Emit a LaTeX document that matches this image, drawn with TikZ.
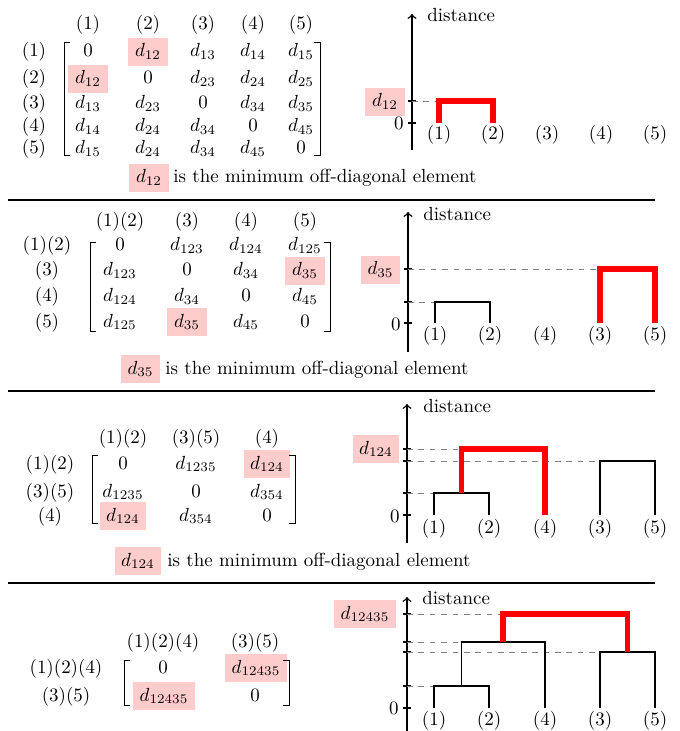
\documentclass[tikz,border=0pt]{standalone}
\begin{document}
\begin{tikzpicture}[x=0.527pt,y=-0.527pt,
  every node/.style={font=\fontsize{10}{12}\selectfont},
  ent/.style={anchor=base, text height=8pt, text depth=3pt, inner xsep=3.5pt, inner ysep=2pt},
  hl/.style={ent, fill=red!20},
  lbl/.style={anchor=base, inner sep=0pt},
  brk/.style={line width=0.5pt},
  sepline/.style={line width=0.8pt},
  axisline/.style={line width=0.8pt, ->},
  tickmark/.style={line width=0.8pt},
  dend/.style={line width=0.9pt},
  merge/.style={red, line width=2.8pt},
  guide/.style={gray, dashed, line width=0.4pt}
]
\useasboundingbox (0,0) rectangle (679,731);

% separators
\coordinate (s1a) at (8,200); \coordinate (s1b) at (655,200);
\coordinate (s2a) at (8,391); \coordinate (s2b) at (655,391);
\coordinate (s3a) at (8,583); \coordinate (s3b) at (655,583);
\draw[sepline] (s1a) -- (s1b);
\draw[sepline] (s2a) -- (s2b);
\draw[sepline] (s3a) -- (s3b);

%================ PANEL 1 =================
\node[lbl] (h11) at (88,30) {(1)};
\node[lbl] (h12) at (148,30) {(2)};
\node[lbl] (h13) at (203,30) {(3)};
\node[lbl] (h14) at (253,30) {(4)};
\node[lbl] (h15) at (301,30) {(5)};
\node[lbl] (r11) at (34,57) {(1)};
\node[lbl] (r12) at (34,84) {(2)};
\node[lbl] (r13) at (34,109) {(3)};
\node[lbl] (r14) at (34,132) {(4)};
\node[lbl] (r15) at (34,154) {(5)};
% row 1
\node[ent] (m1a11) at (88,57) {$0$};
\node[hl]  (m1a12) at (148,57) {$d_{12}$};
\node[ent] (m1a13) at (203,57) {$d_{13}$};
\node[ent] (m1a14) at (253,57) {$d_{14}$};
\node[ent] (m1a15) at (301,57) {$d_{15}$};
% row 2
\node[hl]  (m1a21) at (88,84) {$d_{12}$};
\node[ent] (m1a22) at (148,84) {$0$};
\node[ent] (m1a23) at (203,84) {$d_{23}$};
\node[ent] (m1a24) at (253,84) {$d_{24}$};
\node[ent] (m1a25) at (301,84) {$d_{25}$};
% row 3
\node[ent] (m1a31) at (88,109) {$d_{13}$};
\node[ent] (m1a32) at (148,109) {$d_{23}$};
\node[ent] (m1a33) at (203,109) {$0$};
\node[ent] (m1a34) at (253,109) {$d_{34}$};
\node[ent] (m1a35) at (301,109) {$d_{35}$};
% row 4
\node[ent] (m1a41) at (88,132) {$d_{14}$};
\node[ent] (m1a42) at (148,132) {$d_{24}$};
\node[ent] (m1a43) at (203,132) {$d_{34}$};
\node[ent] (m1a44) at (253,132) {$0$};
\node[ent] (m1a45) at (301,132) {$d_{45}$};
% row 5
\node[ent] (m1a51) at (88,154) {$d_{15}$};
\node[ent] (m1a52) at (148,154) {$d_{24}$};
\node[ent] (m1a53) at (203,154) {$d_{34}$};
\node[ent] (m1a54) at (253,154) {$d_{45}$};
\node[ent] (m1a55) at (301,154) {$0$};
\draw[brk] (70,42) -- (64,42) -- (64,155) -- (70,155);
\draw[brk] (314,42) -- (320,42) -- (320,155) -- (314,155);
\node[hl] (c1box) at (149,183) {$d_{12}$};
\node[lbl, anchor=base west] (c1txt) at (173,183) {is the minimum off-diagonal element};

% dendrogram 1
\coordinate (ax1b) at (412,150); \coordinate (ax1t) at (412,14);
\draw[axisline] (ax1b) -- (ax1t);
\node[lbl, anchor=base west] (dist1) at (427,22) {distance};
\draw[tickmark] (408,123) -- (416,123);
\draw[tickmark] (408,101) -- (416,101);
\node[lbl, anchor=base east] (z1) at (404,130) {$0$};
\node[hl] (t1) at (385,107) {$d_{12}$};
\node[lbl] (p1l1) at (439,140) {(1)};
\node[lbl] (p1l2) at (493,140) {(2)};
\node[lbl] (p1l3) at (547,140) {(3)};
\node[lbl] (p1l4) at (601,140) {(4)};
\node[lbl] (p1l5) at (655,140) {(5)};
\coordinate (p1a) at (439,123); \coordinate (p1b) at (493,123);
\coordinate (p1h) at (493,101); \coordinate (p1g) at (412,101); \coordinate (p1ga) at (439,101);
\draw[guide] (p1g) -- (p1ga);
\draw[merge] (p1a) |- (p1h) -- (p1b);

%================ PANEL 2 =================
\node[lbl] (h21) at (120,227) {(1)(2)};
\node[lbl] (h22) at (187,227) {(3)};
\node[lbl] (h23) at (246,227) {(4)};
\node[lbl] (h24) at (305,227) {(5)};
\node[lbl] (r21) at (47,251) {(1)(2)};
\node[lbl] (r22) at (47,276) {(3)};
\node[lbl] (r23) at (47,302) {(4)};
\node[lbl] (r24) at (47,327) {(5)};
\node[ent] (m2a11) at (120,251) {$0$};
\node[ent] (m2a12) at (187,251) {$d_{123}$};
\node[ent] (m2a13) at (246,251) {$d_{124}$};
\node[ent] (m2a14) at (305,251) {$d_{125}$};
\node[ent] (m2a21) at (120,276) {$d_{123}$};
\node[ent] (m2a22) at (187,276) {$0$};
\node[ent] (m2a23) at (246,276) {$d_{34}$};
\node[hl]  (m2a24) at (305,276) {$d_{35}$};
\node[ent] (m2a31) at (120,302) {$d_{124}$};
\node[ent] (m2a32) at (187,302) {$d_{34}$};
\node[ent] (m2a33) at (246,302) {$0$};
\node[ent] (m2a34) at (305,302) {$d_{45}$};
\node[ent] (m2a41) at (120,327) {$d_{125}$};
\node[hl]  (m2a42) at (187,327) {$d_{35}$};
\node[ent] (m2a43) at (246,327) {$d_{45}$};
\node[ent] (m2a44) at (305,327) {$0$};
\draw[brk] (96,242) -- (90,242) -- (90,331) -- (96,331);
\draw[brk] (324,242) -- (330,242) -- (330,331) -- (324,331);
\node[hl] (c2box) at (140.5,374) {$d_{35}$};
\node[lbl, anchor=base west] (c2txt) at (165,374) {is the minimum off-diagonal element};

% dendrogram 2
\coordinate (ax2b) at (408,352); \coordinate (ax2t) at (408,212);
\draw[axisline] (ax2b) -- (ax2t);
\node[lbl, anchor=base west] (dist2) at (423,221) {distance};
\draw[tickmark] (404,323) -- (412,323);
\draw[tickmark] (404,302) -- (412,302);
\draw[tickmark] (404,269) -- (412,269);
\node[lbl, anchor=base east] (z2) at (401,330) {$0$};
\node[hl] (t2) at (380.5,275) {$d_{35}$};
\node[lbl] (p2l1) at (435,340) {(1)};
\node[lbl] (p2l2) at (490,340) {(2)};
\node[lbl] (p2l4) at (545,340) {(4)};
\node[lbl] (p2l3) at (600,340) {(3)};
\node[lbl] (p2l5) at (655,340) {(5)};
\coordinate (p2a) at (435,323); \coordinate (p2b) at (490,323);
\coordinate (p2c) at (600,323); \coordinate (p2d) at (655,323);
\coordinate (p2ab) at (490,302); \coordinate (p2cd) at (655,269);
\draw[guide] (408,302) -- (435,302);
\draw[guide] (408,269) -- (600,269);
\draw[dend] (p2a) |- (p2ab) -- (p2b);
\draw[merge] (p2c) |- (p2cd) -- (p2d);

%================ PANEL 3 =================
\node[lbl] (h31) at (123,443) {(1)(2)};
\node[lbl] (h32) at (196,443) {(3)(5)};
\node[lbl] (h33) at (267,443) {(4)};
\node[lbl] (r31) at (50,469) {(1)(2)};
\node[lbl] (r32) at (50,497) {(3)(5)};
\node[lbl] (r33) at (50,521) {(4)};
\node[ent] (m3a11) at (123,469) {$0$};
\node[ent] (m3a12) at (196,469) {$d_{1235}$};
\node[hl]  (m3a13) at (267,469) {$d_{124}$};
\node[ent] (m3a21) at (123,497) {$d_{1235}$};
\node[ent] (m3a22) at (196,497) {$0$};
\node[ent] (m3a23) at (267,497) {$d_{354}$};
\node[hl]  (m3a31) at (123,521) {$d_{124}$};
\node[ent] (m3a32) at (196,521) {$d_{354}$};
\node[ent] (m3a33) at (267,521) {$0$};
\draw[brk] (98,455) -- (92,455) -- (92,523) -- (98,523);
\draw[brk] (289,455) -- (295,455) -- (295,523) -- (289,523);
\node[hl] (c3box) at (138,566) {$d_{124}$};
\node[lbl, anchor=base west] (c3txt) at (167,566) {is the minimum off-diagonal element};

% dendrogram 3
\coordinate (ax3b) at (407,543); \coordinate (ax3t) at (407,404);
\draw[axisline] (ax3b) -- (ax3t);
\node[lbl, anchor=base west] (dist3) at (423,412) {distance};
\draw[tickmark] (403,515) -- (411,515);
\draw[tickmark] (403,493) -- (411,493);
\draw[tickmark] (403,461) -- (411,461);
\draw[tickmark] (403,449) -- (411,449);
\node[lbl, anchor=base east] (z3) at (400,522) {$0$};
\node[hl] (t3) at (376,454) {$d_{124}$};
\node[lbl] (p3l1) at (434,533) {(1)};
\node[lbl] (p3l2) at (489,533) {(2)};
\node[lbl] (p3l4) at (545,533) {(4)};
\node[lbl] (p3l3) at (600,533) {(3)};
\node[lbl] (p3l5) at (655,533) {(5)};
\coordinate (p3a) at (434,515); \coordinate (p3b) at (489,515);
\coordinate (p3d) at (545,515);
\coordinate (p3c) at (600,515); \coordinate (p3e) at (655,515);
\coordinate (p3ab) at (489,493); \coordinate (p3ce) at (655,461);
\coordinate (p3m) at (461.5,493); \coordinate (p3top) at (545,449);
\draw[guide] (407,493) -- (434,493);
\draw[guide] (407,461) -- (600,461);
\draw[guide] (407,449) -- (461.5,449);
\draw[dend] (p3a) |- (p3ab) -- (p3b);
\draw[dend] (p3c) |- (p3ce) -- (p3e);
\draw[merge] (p3m) |- (p3top) -- (p3d);

%================ PANEL 4 =================
\node[lbl] (h41) at (163,647) {(1)(2)(4)};
\node[lbl] (h42) at (255,647) {(3)(5)};
\node[lbl] (r41) at (66,673) {(1)(2)(4)};
\node[lbl] (r42) at (66,701) {(3)(5)};
\node[ent] (m4a11) at (163,673) {$0$};
\node[hl]  (m4a12) at (256,673) {$d_{12435}$};
\node[hl]  (m4a21) at (164,701) {$d_{12435}$};
\node[ent] (m4a22) at (255,701) {$0$};
\draw[brk] (130,660) -- (124,660) -- (124,705) -- (130,705);
\draw[brk] (283,660) -- (289,660) -- (289,705) -- (283,705);

% dendrogram 4
\coordinate (ax4b) at (407,740); \coordinate (ax4t) at (407,597);
\draw[axisline] (ax4b) -- (ax4t);
\node[lbl, anchor=base west] (dist4) at (422,604) {distance};
\draw[tickmark] (403,708) -- (411,708);
\draw[tickmark] (403,686) -- (411,686);
\draw[tickmark] (403,652) -- (411,652);
\draw[tickmark] (403,642) -- (411,642);
\draw[tickmark] (403,614) -- (411,614);
\node[lbl, anchor=base east] (z4) at (399,714) {$0$};
\node[hl] (t4) at (365,619) {$d_{12435}$};
\node[lbl] (p4l1) at (434,725) {(1)};
\node[lbl] (p4l2) at (489,725) {(2)};
\node[lbl] (p4l4) at (545,725) {(4)};
\node[lbl] (p4l3) at (600,725) {(3)};
\node[lbl] (p4l5) at (655,725) {(5)};
\coordinate (p4a) at (434,708); \coordinate (p4b) at (489,708);
\coordinate (p4d) at (545,708);
\coordinate (p4c) at (600,708); \coordinate (p4e) at (655,708);
\coordinate (p4ab) at (489,686); \coordinate (p4m) at (461.5,686);
\coordinate (p4abd) at (545,642); \coordinate (p4n) at (503,642);
\coordinate (p4ce) at (655,652); \coordinate (p4k) at (627.5,652);
\coordinate (p4top) at (627.5,614);
\draw[guide] (407,686) -- (434,686);
\draw[guide] (407,652) -- (600,652);
\draw[guide] (407,642) -- (461.5,642);
\draw[guide] (407,614) -- (503,614);
\draw[dend] (p4a) |- (p4ab) -- (p4b);
\draw[dend] (p4m) |- (p4abd) -- (p4d);
\draw[dend] (p4c) |- (p4ce) -- (p4e);
\draw[merge] (p4n) |- (p4top) -- (p4k);

\end{tikzpicture}
\end{document}
